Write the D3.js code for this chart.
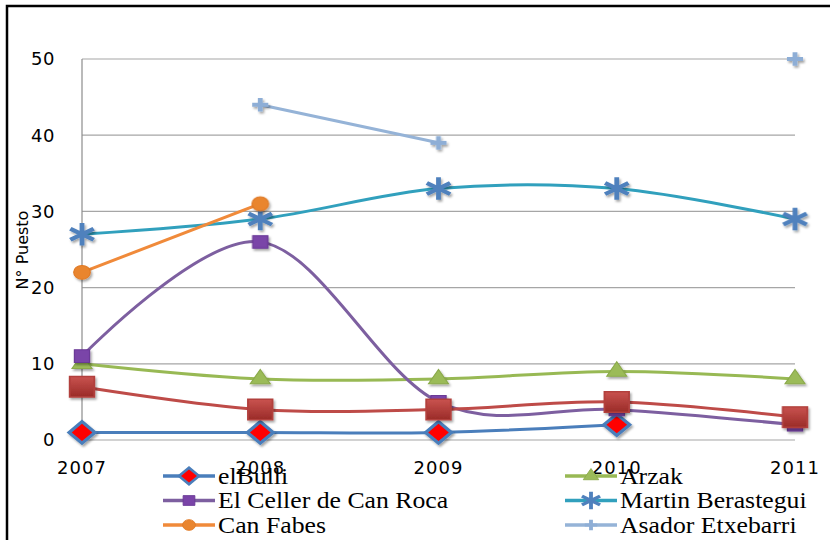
<!DOCTYPE html>
<html>
<head>
<meta charset="utf-8">
<script src="https://cdn.jsdelivr.net/npm/d3@7"></script>
<style>
  body { margin: 0; background: #fff; }
  svg { display: block; }
  .legend-text { font-family: "Liberation Serif", "Times New Roman", "DejaVu Serif", serif; font-size: 23px; }
</style>
</head>
<body>
<div id="chart"></div>
<script>
// data
const years = [2007, 2008, 2009, 2010, 2011]
const yTicks = [0, 10, 20, 30, 40, 50]
const elBulli = [1, 1, 1, 2, null]
const arzak = [10, 8, 8, 9, 8]
const celler = [11, 26, 5, 4, 2]
const martin = [27, 29, 33, 33, 29]
const canFabes = [22, 31, null, null, null]
const asador = [null, 44, 39, null, 50]
const mugaritz = [7, 4, 4, 5, 3]   // drawn, but no legend entry visible

const width = 830, height = 540
const margin = {top: 59, right: 35, bottom: 100, left: 82}

const svg = d3.select('#chart').append('svg')
    .attr('width', width).attr('height', height)

const defs = svg.append('defs')
const shadow = defs.append('filter').attr('id', 'shadow')
    .attr('x', '-50%').attr('y', '-50%').attr('width', '200%').attr('height', '200%')
shadow.append('feDropShadow').attr('dx', 1.5).attr('dy', 2).attr('stdDeviation', 1.3)
    .attr('flood-color', '#000').attr('flood-opacity', 0.35)
const grad = defs.append('linearGradient').attr('id', 'redgrad')
    .attr('x1', 0).attr('y1', 0).attr('x2', 0).attr('y2', 1)
grad.append('stop').attr('offset', 0).attr('stop-color', '#C9534F')
grad.append('stop').attr('offset', 1).attr('stop-color', '#9A2B28')

// outer frame (only left and top visible)
svg.append('path').attr('d', 'M7,540 L7,6 L830,6')
    .attr('fill', 'none').attr('stroke', '#000').attr('stroke-width', 2.5)

const x = d3.scalePoint().domain(years).range([margin.left, width - margin.right])
const y = d3.scaleLinear().domain([0, 50]).range([height - margin.bottom, margin.top])

// gridlines
svg.append('g').selectAll('line').data(yTicks).join('line')
    .attr('x1', margin.left).attr('x2', width - margin.right)
    .attr('y1', d => y(d)).attr('y2', d => y(d))
    .attr('stroke', '#A6A6A6').attr('stroke-width', 1.2)
svg.append('line')
    .attr('x1', margin.left).attr('x2', margin.left)
    .attr('y1', y(50)).attr('y2', y(0))
    .attr('stroke', '#8C8C8C').attr('stroke-width', 1.2)

// axis labels
svg.append('g').selectAll('text').data(yTicks).join('text')
    .attr('x', 55).attr('y', d => y(d)).attr('dy', '0.36em')
    .attr('text-anchor', 'end')
    .style('font', '18px "DejaVu Sans"').style('letter-spacing', '0.5px').attr('fill', '#000')
    .text(d => d)
svg.append('g').selectAll('text').data(years).join('text')
    .attr('x', d => x(d)).attr('y', 474)
    .attr('text-anchor', 'middle')
    .style('font', '18px "DejaVu Sans"').style('letter-spacing', '1px').attr('fill', '#000')
    .text(d => d)
svg.append('text')
    .attr('transform', `translate(28,${250}) rotate(-90)`)
    .attr('text-anchor', 'middle')
    .style('font', '16px "DejaVu Sans"').attr('fill', '#000')
    .text('N° Puesto')

// marker shapes
const asterisk = {
  draw(ctx, size) {
    const r = Math.sqrt(size) / 2
    ctx.moveTo(0, -r); ctx.lineTo(0, r)
    ctx.moveTo(-r * 0.87, -r * 0.5); ctx.lineTo(r * 0.87, r * 0.5)
    ctx.moveTo(-r * 0.87, r * 0.5); ctx.lineTo(r * 0.87, -r * 0.5)
  }
}
const plus = {
  draw(ctx, size) {
    const r = Math.sqrt(size) / 2
    ctx.moveTo(0, -r); ctx.lineTo(0, r)
    ctx.moveTo(-r, 0); ctx.lineTo(r, 0)
  }
}

const series = [
  {name: 'elBulli', values: elBulli, line: '#4A7EBB', sym: d3.symbolSquare, size: 230, rot: 45,
   fill: '#FF0000', stroke: '#4A7EBB', sw: 3},
  {name: 'Arzak', values: arzak, line: '#98B954', sym: d3.symbolTriangle, size: 120, rot: 0,
   fill: '#9BBB59', stroke: '#8BAA4A', sw: 1},
  {name: 'El Celler de Can Roca', values: celler, line: '#7D5FA0', sym: d3.symbolSquare, size: 160, rot: 0,
   fill: '#7A44A8', stroke: '#6A3A96', sw: 1},
  {name: 'Martin Berastegui', values: martin, line: '#31A0BD', sym: asterisk, size: 500, rot: 0,
   fill: 'none', stroke: '#4F81BD', sw: 4},
  {name: 'Can Fabes', values: canFabes, line: '#F08A3A', sym: d3.symbolCircle, size: 150, rot: 0,
   fill: '#E9852F', stroke: '#E07A25', sw: 1},
  {name: 'Asador Etxebarri', values: asador, line: '#95B3D7', sym: plus, size: 180, rot: 0,
   fill: 'none', stroke: '#8EAED6', sw: 4},
  {name: 'Mugaritz', values: mugaritz, line: '#BE4B48', sym: d3.symbolSquare, size: 420, rot: 0,
   fill: 'url(#redgrad)', stroke: '#B2403D', sw: 1.5, noLegend: true}
]

const line = d3.line()
    .defined(d => d.v !== null)
    .x(d => x(d.year)).y(d => y(d.v))
    .curve(d3.curveCatmullRom.alpha(0))

const plot = svg.append('g')
series.forEach(s => {
  const pts = years.map((yr, i) => ({year: yr, v: s.values[i]}))
  plot.append('path').datum(pts)
      .attr('d', line)
      .attr('fill', 'none').attr('stroke', s.line).attr('stroke-width', 3)
      .attr('stroke-linecap', 'round')
})
series.forEach(s => {
  const pts = years.map((yr, i) => ({year: yr, v: s.values[i]})).filter(d => d.v !== null)
  plot.append('g').attr('filter', 'url(#shadow)')
    .selectAll('path').data(pts).join('path')
      .attr('transform', d => `translate(${x(d.year)},${y(d.v)}) scale(1.2,1) rotate(${s.rot})`)
      .attr('d', d3.symbol().type(s.sym).size(s.size))
      .attr('fill', s.fill).attr('stroke', s.stroke).attr('stroke-width', s.sw)
})

// legend, two columns, row-major
const legendItems = series.filter(s => !s.noLegend)
const leg = svg.append('g')
legendItems.forEach((s, i) => {
  const col = i % 2, row = Math.floor(i / 2)
  const gx = col === 0 ? 163 : 565
  const gy = 476 + row * 24.5
  const g = leg.append('g').attr('transform', `translate(${gx},${gy})`)
  g.append('line').attr('x1', 0).attr('x2', 52).attr('y1', 0).attr('y2', 0)
      .attr('stroke', s.line).attr('stroke-width', 3.5)
  g.append('path')
      .attr('transform', `translate(26,0) scale(1.2,1) rotate(${s.rot})`)
      .attr('d', d3.symbol().type(s.sym).size(s.size * 0.6))
      .attr('fill', s.fill).attr('stroke', s.stroke).attr('stroke-width', s.sw * 0.8)
  g.append('text').attr('class', 'legend-text')
      .attr('transform', 'translate(55,0) scale(1.12,1)')
      .attr('dy', '0.33em').attr('fill', '#000')
      .text(s.name)
})
</script>
</body>
</html>
